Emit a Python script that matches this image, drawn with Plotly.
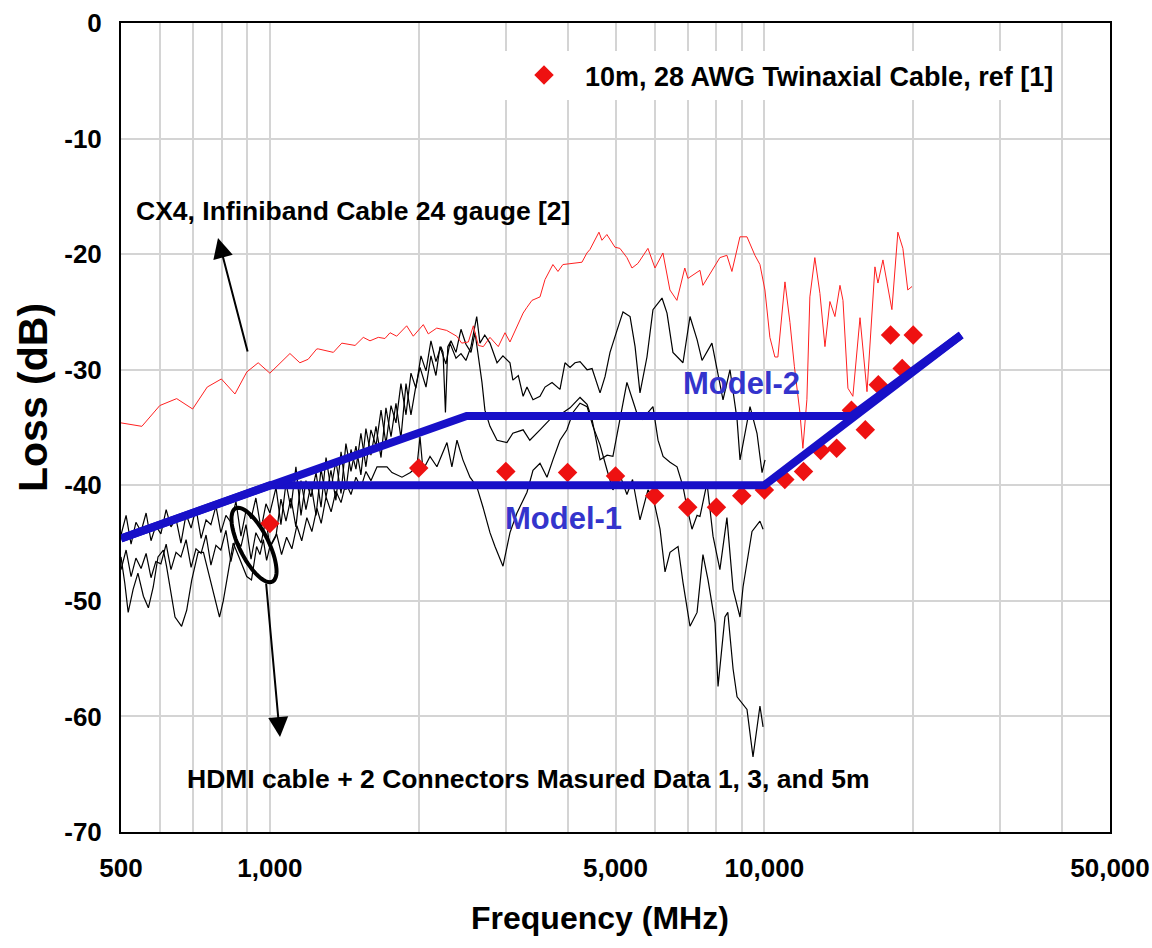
import numpy as np
import plotly.graph_objects as go

# ---------------- data ----------------
# 10m, 28 AWG twinaxial cable, ref [1]  (frequency MHz, loss dB)
twinax_f = [1000, 2000, 3000, 4000, 5000, 6000, 7000, 8000, 9000, 10000, 11000, 12000,
            13000, 14000, 15000, 16000, 17000, 18000, 19000, 20000]
twinax_db = [-43.3, -38.5, -38.8, -38.9, -39.2, -40.9, -41.9, -41.9, -40.9, -40.4, -39.5, -38.8,
             -37.0, -36.8, -33.5, -35.2, -31.3, -27.0, -29.9, -27.0]

# Models
model1_f = [500, 1000, 10000, 25000]
model1_db = [-44.6, -40.0, -40.0, -27.0]
model2_f = [500, 2500, 15000, 25000]
model2_db = [-44.6, -34.0, -34.0, -27.0]

# CX4 Infiniband cable 24 gauge [2]
cx4_f = [500, 551, 599, 648, 698, 747, 798, 850, 898, 947, 1000, 1098, 1150, 1195, 1244, 1253,
         1344, 1398, 1487, 1545, 1594, 1657, 1709, 1750, 1805, 1891, 1950, 2043, 2091, 2175, 2278,
         2387, 2443, 2520, 2579, 2640, 2702, 2787, 2897, 2989, 3059, 3156, 3252, 3311, 3389, 3518,
         3601, 3736, 3825, 3914, 4100, 4277, 4377, 4439, 4629, 4694, 4803, 4987, 5104, 5273, 5399,
         5551, 5815, 6009, 6236, 6442, 6655, 6904, 7005, 7409, 7513, 7834, 8130, 8400, 8598, 8925,
         9222, 9570, 9797, 10026, 10261, 10503, 10650, 11007, 11265, 11500, 11800, 11965, 12190,
         12360, 12650, 12953, 13260, 13570, 13890, 14220, 14420, 14757, 15100, 15610, 16127, 16735,
         16970, 17370, 18110, 18620, 19060, 19500, 19887]
cx4_db = [-34.6, -34.9, -33.1, -32.5, -33.4, -31.5, -30.8, -32.1, -30.2, -29.4, -30.3, -28.6, -29.4,
          -29.1, -28.2, -28.2, -28.5, -27.7, -27.9, -27.2, -27.5, -27.2, -27.3, -26.8, -27.1, -26.2,
          -27.1, -26.1, -26.9, -26.4, -26.6, -27.1, -27.7, -27.6, -26.2, -27.9, -28.0, -27.2, -28.0,
          -26.8, -27.6, -26.4, -25.1, -24.6, -24.0, -23.7, -22.2, -20.9, -21.5, -20.9, -20.8, -20.7,
          -19.9, -19.6, -18.1, -18.8, -18.3, -19.4, -19.5, -20.3, -21.2, -20.8, -19.5, -21.2, -19.9,
          -23.1, -24.0, -21.2, -22.1, -21.4, -22.7, -21.4, -20.3, -20.1, -21.5, -18.5, -18.5, -20.1,
          -20.9, -23.1, -27.2, -28.9, -28.9, -22.4, -25.9, -29.7, -33.7, -36.8, -32.6, -23.7, -20.3,
          -23.4, -28.0, -24.1, -25.4, -22.7, -24.0, -31.6, -32.3, -25.5, -31.9, -21.1, -22.5, -20.5,
          -24.8, -18.1, -19.5, -23.1, -22.8]

# HDMI cable + 2 connectors, measured (three lengths)
hdmi_a_f = [500, 512, 524, 536, 549, 562, 575, 588, 602, 617, 631, 646, 661, 677, 693, 709, 726, 743,
            760, 778, 796, 815, 834, 854, 874, 895, 916, 937, 960, 982, 1000, 1029, 1053, 1078, 1103,
            1129, 1156, 1183, 1211, 1240, 1269, 1299, 1329, 1360, 1393, 1425, 1459, 1493, 1528, 1564,
            1601, 1639, 1678, 1717, 1758, 1799, 1841, 1885, 1929, 1974, 2012, 2069, 2117, 2167, 2208,
            2270, 2313, 2379, 2435, 2492, 2551, 2620, 2660, 2720, 2787, 2880, 2960, 3059, 3100, 3180,
            3252, 3311, 3405, 3518, 3601, 3721, 3861, 3952, 4046, 4141, 4239, 4380, 4483, 4653, 4762,
            4874, 5035, 5178, 5351, 5477, 5604, 5789, 5953, 6209, 6355, 6533, 6846, 7073, 7310, 7481,
            7834, 8020, 8249, 8522, 8806, 8929, 9354, 9663, 9893, 10031]
hdmi_a_db = [-44.3, -42.6, -45.1, -43.2, -44.0, -42.4, -44.8, -43.5, -44.2, -42.1, -43.6, -42.9, -45.0,
             -42.5, -43.7, -42.0, -44.6, -43.0, -43.4, -41.8, -44.1, -42.6, -43.2, -41.4, -44.4, -42.2,
             -42.9, -41.1, -43.8, -41.6, -42.4, -40.2, -43.4, -39.8, -42.0, -38.4, -42.6, -39.6, -41.0,
             -38.9, -41.9, -37.6, -40.3, -37.9, -40.7, -36.4, -38.8, -36.6, -39.1, -35.1, -37.4, -34.9,
             -37.6, -33.3, -35.8, -32.9, -35.9, -31.2, -33.9, -31.4, -29.8, -31.5, -28.8, -30.5, -28.0,
             -29.5, -27.7, -29.0, -28.6, -29.2, -28.0, -25.4, -27.7, -27.0, -27.7, -29.4, -28.8, -29.4,
             -30.9, -30.5, -32.3, -31.5, -32.6, -32.3, -31.5, -31.1, -31.7, -29.4, -29.8, -29.4, -29.3,
             -30.0, -29.9, -32.0, -30.6, -28.5, -26.6, -25.0, -25.4, -28.0, -32.0, -28.9, -24.8, -23.8,
             -25.1, -28.5, -29.4, -25.4, -27.4, -29.2, -27.7, -29.8, -32.6, -30.0, -34.3, -37.8, -33.2,
             -35.5, -38.9, -37.8]

hdmi_b_f = [500, 512, 524, 536, 549, 562, 575, 588, 602, 617, 631, 646, 661, 677, 693, 709, 726, 743,
            760, 778, 796, 815, 834, 854, 874, 895, 916, 937, 960, 982, 1000, 1029, 1053, 1078, 1103,
            1129, 1156, 1183, 1211, 1240, 1269, 1299, 1329, 1360, 1393, 1425, 1459, 1493, 1528, 1564,
            1601, 1639, 1678, 1717, 1758, 1799, 1841, 1885, 1929, 1974, 2021, 2069, 2117, 2167, 2218,
            2240, 2265, 2290, 2324, 2379, 2435, 2492, 2551, 2600, 2685, 2722, 2787, 2880, 3016, 3100,
            3252, 3355, 3518, 3685, 3861, 4046, 4239, 4380, 4483, 4587, 4653, 4808, 4940, 5104, 5273,
            5413, 5517, 5660, 5873, 5953, 6095, 6240, 6445, 6659, 6846, 6974, 7139, 7310, 7409, 7656,
            7874, 8130, 8400, 8645, 8929, 9055, 9441, 9797, 9940]
hdmi_b_db = [-47.3, -45.6, -47.9, -46.3, -47.2, -45.9, -48.0, -46.6, -46.8, -45.1, -47.3, -45.8, -46.2,
             -44.7, -47.1, -45.5, -45.9, -44.3, -46.9, -45.2, -45.6, -43.9, -46.6, -44.6, -45.3, -43.4,
             -46.4, -44.1, -45.0, -42.9, -45.4, -44.4, -41.2, -43.1, -41.1, -43.6, -39.6, -42.1, -39.9,
             -42.6, -38.6, -41.0, -38.7, -41.3, -37.1, -40.4, -36.9, -38.6, -35.5, -38.4, -35.2, -36.6,
             -33.5, -36.4, -33.1, -34.6, -31.2, -33.9, -30.3, -31.6, -28.8, -30.1, -27.5, -29.3, -28.0,
             -28.5, -33.7, -28.0, -27.5, -28.5, -26.5, -27.8, -28.5, -26.8, -31.1, -33.5, -34.9, -36.1,
             -36.3, -35.5, -35.2, -36.1, -35.2, -34.3, -33.9, -33.3, -32.4, -33.0, -34.3, -36.5, -37.8,
             -37.4, -37.5, -34.3, -31.1, -32.6, -33.7, -34.3, -33.5, -33.2, -36.1, -37.5, -38.0, -38.4,
             -40.1, -41.9, -43.8, -42.6, -42.7, -39.8, -44.4, -47.3, -42.8, -49.0, -51.4, -48.8, -44.0,
             -43.1, -43.8]

hdmi_c_f = [500, 509, 517, 529, 541, 555, 568, 581, 594, 609, 618, 628, 643, 663, 679, 695, 716, 734,
            757, 775, 791, 805, 818, 843, 866, 882, 898, 918, 940, 955, 970, 985, 1000, 1032, 1056, 1081,
            1108, 1134, 1160, 1188, 1216, 1245, 1270, 1299, 1330, 1360, 1393, 1425, 1459, 1493, 1528,
            1564, 1601, 1647, 1725, 1766, 1850, 1924, 1983, 2012, 2040, 2108, 2177, 2281, 2334, 2390,
            2457, 2539, 2620, 2698, 2787, 2853, 2961, 3059, 3160, 3311, 3405, 3518, 3634, 3736, 3861,
            3988, 4101, 4239, 4380, 4502, 4653, 4808, 4940, 5104, 5273, 5413, 5604, 5816, 5953, 6152,
            6297, 6445, 6690, 6846, 7073, 7310, 7513, 7694, 7948, 8060, 8323, 8435, 8645, 8806, 9223,
            9485, 9663, 9797, 9940]
hdmi_c_db = [-46.2, -48.5, -51.0, -49.0, -47.6, -49.6, -50.6, -48.8, -46.2, -45.6, -47.0, -48.8, -51.4,
             -52.2, -50.8, -48.2, -45.8, -45.8, -48.2, -49.9, -51.4, -50.0, -48.2, -45.0, -46.2, -47.0,
             -47.9, -48.2, -45.3, -46.0, -44.7, -46.5, -45.3, -44.2, -46.0, -44.5, -45.5, -43.5, -44.8,
             -42.8, -44.0, -42.0, -43.3, -41.0, -42.3, -40.5, -41.5, -39.8, -40.8, -39.3, -40.2, -38.8,
             -39.6, -38.4, -38.4, -38.9, -39.3, -38.9, -38.4, -35.8, -38.7, -37.5, -38.4, -36.3, -38.4,
             -36.1, -37.8, -39.3, -40.1, -41.9, -44.1, -45.3, -47.0, -44.1, -42.4, -40.6, -38.7, -38.1,
             -39.3, -37.8, -36.1, -35.2, -33.7, -32.9, -33.2, -34.9, -36.5, -38.7, -40.4, -39.1, -40.8,
             -39.5, -43.0, -40.4, -41.0, -43.8, -47.5, -45.8, -45.3, -48.4, -52.2, -51.0, -46.0, -48.2,
             -51.9, -57.4, -51.4, -51.0, -55.9, -58.3, -59.4, -63.5, -61.1, -59.1, -60.9]

y_ticks = [0, -10, -20, -30, -40, -50, -60, -70]
y_labels = ["0", "-10", "-20", "-30", "-40", "-50", "-60", "-70"]
x_grid = [500, 600, 700, 800, 900, 1000, 2000, 3000, 4000, 5000, 6000, 7000, 8000, 9000,
          10000, 20000, 30000, 40000, 50000]
x_labels = {500: "500", 1000: "1,000", 5000: "5,000", 10000: "10,000", 50000: "50,000"}

# ---------------- figure ----------------
FONT = "Arial, Liberation Sans, Helvetica, sans-serif"
BLUE = "#1810c8"
L, R, T, B = 121, 1110, 23, 832  # plot area in pixels
PW, PH = R - L, B - T


def px2paper(x, y):
    return (x - L) / PW, (B - y) / PH


fig = go.Figure()
for f, d in [(hdmi_a_f, hdmi_a_db), (hdmi_b_f, hdmi_b_db), (hdmi_c_f, hdmi_c_db)]:
    fig.add_trace(go.Scatter(x=f, y=d, mode="lines", line=dict(color="black", width=1.2),
                             showlegend=False, hoverinfo="skip"))
fig.add_trace(go.Scatter(x=cx4_f, y=cx4_db, mode="lines", line=dict(color="#ff2020", width=1),
                         showlegend=False))
fig.add_trace(go.Scatter(x=twinax_f, y=twinax_db, mode="markers",
                         marker=dict(symbol="diamond", size=15, color="#ee1111"),
                         name="10m, 28 AWG Twinaxial Cable, ref [1]"))
fig.add_trace(go.Scatter(x=model1_f, y=model1_db, mode="lines", line=dict(color=BLUE, width=8),
                         showlegend=False))
fig.add_trace(go.Scatter(x=model2_f, y=model2_db, mode="lines", line=dict(color=BLUE, width=8),
                         showlegend=False))

# ellipse around HDMI data near 1 GHz (drawn in pixel space, converted to paper)
t = np.linspace(0, 2 * np.pi, 73)
th = np.deg2rad(63.4)
ex = 254 + 41 * np.cos(t) * np.cos(th) - 14.6 * np.sin(t) * np.sin(th)
ey = 545 + 41 * np.cos(t) * np.sin(th) + 14.6 * np.sin(t) * np.cos(th)
pts = [px2paper(a, b) for a, b in zip(ex, ey)]
path = "M " + " L ".join(f"{a:.4f},{b:.4f}" for a, b in pts) + " Z"
fig.add_shape(type="path", path=path, xref="paper", yref="paper",
              line=dict(color="black", width=4))

ann = []
# arrows
hx, hy = px2paper(218, 238)
ann.append(dict(x=hx, y=hy, xref="paper", yref="paper", text="", showarrow=True,
                ax=30, ay=115, arrowhead=2, arrowsize=2, arrowwidth=2, arrowcolor="black"))
hx, hy = px2paper(280, 737)
ann.append(dict(x=hx, y=hy, xref="paper", yref="paper", text="", showarrow=True,
                ax=-14, ay=-155, arrowhead=2, arrowsize=2, arrowwidth=2, arrowcolor="black"))


# texts
def txt(s, x, y, size, color="black", xanchor="center", angle=0):
    px_, py_ = px2paper(x, y)
    return dict(x=px_, y=py_, xref="paper", yref="paper", text=s, showarrow=False,
                xanchor=xanchor, yanchor="middle", textangle=angle,
                font=dict(family=FONT, size=size, color=color, weight="bold"))


ann.append(txt("CX4, Infiniband Cable 24 gauge [2]", 134, 211, 26.5, xanchor="left"))
ann.append(txt("HDMI cable + 2 Connectors Masured Data 1, 3, and 5m", 528, 779, 26.5))
ann.append(txt("Model-2", 741, 383, 31, color="#3434cc"))
ann.append(txt("Model-1", 563, 518, 31, color="#3434cc"))
ann.append(txt("Loss (dB)", 33, 398, 41, angle=-90))
ann.append(txt("Frequency (MHz)", 600, 918, 32))

lx, ly = px2paper(503, 51)
fig.update_layout(
    width=1152, height=948,
    margin=dict(l=L, r=1152 - R, t=T, b=948 - B, autoexpand=False),
    paper_bgcolor="white", plot_bgcolor="white",
    font=dict(family=FONT, color="black"),
    annotations=ann,
    legend=dict(x=lx, y=ly, xanchor="left", yanchor="top", bgcolor="white",
                borderwidth=0, itemwidth=72,
                font=dict(family=FONT, size=27, color="black", weight="bold")),
    xaxis=dict(type="log", range=[np.log10(500), np.log10(50000)],
               tickmode="array", tickvals=x_grid,
               ticktext=[x_labels.get(v, "") for v in x_grid],
               showgrid=True, gridcolor="#d4d4d4", gridwidth=1.5, automargin=False,
               showline=True, linecolor="black", linewidth=2, mirror=True,
               ticks="", ticklabelstandoff=12, zeroline=False,
               tickfont=dict(family=FONT, size=26, color="black", weight="bold")),
    yaxis=dict(range=[-70, 0], tickmode="array", tickvals=y_ticks, ticktext=y_labels,
               showgrid=True, gridcolor="#d4d4d4", gridwidth=1.5, automargin=False,
               showline=True, linecolor="black", linewidth=2, mirror=True,
               ticks="", ticklabelstandoff=12, zeroline=False,
               tickfont=dict(family=FONT, size=26, color="black", weight="bold")),
)

fig.write_html("out.html")
